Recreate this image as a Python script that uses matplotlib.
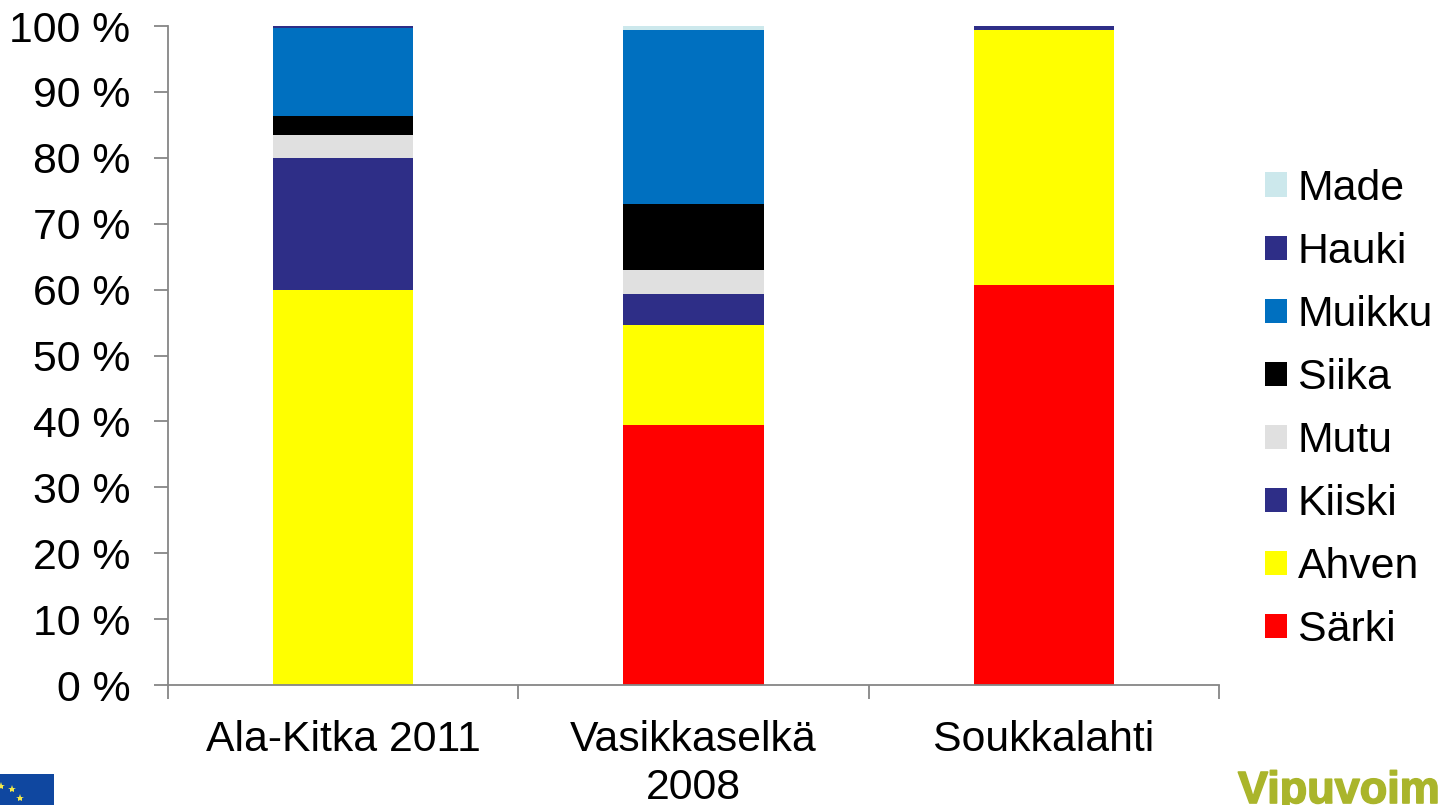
import matplotlib
matplotlib.use('Agg')
import matplotlib.pyplot as plt
import matplotlib.patheffects as pe
from matplotlib.lines import Line2D
from matplotlib.patches import Rectangle

plt.rcParams['font.family'] = ['Liberation Sans', 'DejaVu Sans']

categories = ['Ala-Kitka 2011', 'Vasikkaselkä\n2008', 'Soukkalahti']
species = ['Särki', 'Ahven', 'Kiiski', 'Mutu', 'Siika', 'Muikku', 'Hauki', 'Made']
colors = ['#FF0000', '#FFFF00', '#2E2E87', '#E0E0E0', '#000000', '#0070C0', '#2E2E87', '#CCE8EC']
sarki = [0, 39.4, 60.7]
ahven = [59.9, 15.3, 38.7]
kiiski = [20.0, 4.7, 0]
mutu = [3.6, 3.6, 0]
siika = [2.8, 10.0, 0]
muikku = [13.4, 26.4, 0]
hauki = [0.3, 0, 0.6]
made = [0, 0.6, 0]
series = [sarki, ahven, kiiski, mutu, siika, muikku, hauki, made]
y_ticks = list(range(0, 101, 10))
W, H = 1443, 805
FS = 30.8

fig = plt.figure(figsize=(W / 100, H / 100), dpi=100, facecolor='white')
ax = fig.add_axes([168 / W, 1 - 685 / H, (1219 - 168) / W, (685 - 26) / H])
x = range(len(categories))
bottom = [0.0] * 3
for vals, c, name in zip(series, colors, species):
    ax.bar(x, vals, width=0.4, bottom=bottom, color=c, label=name, linewidth=0)
    bottom = [b + v for b, v in zip(bottom, vals)]
ax.set_xlim(-0.5, 2.5)
ax.set_ylim(0, 100)
ax.set_yticks(y_ticks)
ax.set_yticklabels([f'{t} %' for t in y_ticks])
ax.set_xticks([-0.5, 0.5, 1.5, 2.5])
ax.set_xticklabels([])
ax.set_xticks(list(x), minor=True)
ax.set_xticklabels(categories, minor=True)
for s in ('top', 'right'):
    ax.spines[s].set_visible(False)
for s in ('left', 'bottom'):
    ax.spines[s].set_color('#868686')
    ax.spines[s].set_linewidth(1.3)
ax.tick_params(axis='y', labelsize=FS, length=10, width=1.3, color='#868686', pad=17, direction='out')
ax.tick_params(axis='x', which='major', length=10, width=1.3, color='#868686')
ax.tick_params(axis='x', which='minor', labelsize=FS, length=0, pad=25.5)
for lab in ax.get_xticklabels(minor=True):
    lab.set_linespacing(1.26)

handles, labels = ax.get_legend_handles_labels()
fig.legend(handles[::-1], labels[::-1], loc='upper left', bbox_to_anchor=(1265 / W, 1 - 169 / H),
           frameon=False, fontsize=FS, handlelength=0.51, handleheight=0.51, handletextpad=0.257,
           labelspacing=0.538, borderpad=0, borderaxespad=0)

# EU flag fragment and logo text, cropped at the figure edge
fig.patches.append(Rectangle((0, 0), 54 / W, 31 / H, transform=fig.transFigure, facecolor='#0F47A0', edgecolor='none'))
star_x = [1, 12, 20]
star_y = [786, 789, 798]
fig.add_artist(Line2D([v / W for v in star_x], [1 - v / H for v in star_y], transform=fig.transFigure,
                      linestyle='none', marker='*', markersize=6, color='#F2E84B', markeredgewidth=0))
fig.text(1238 / W, 1 - 803 / H, 'Vipuvoim', fontsize=32.4, fontweight='bold', color='#AAB52B', va='baseline', ha='left',
         path_effects=[pe.withStroke(linewidth=1.2, foreground='#AAB52B')])
fig.savefig('out.png', dpi=100)
